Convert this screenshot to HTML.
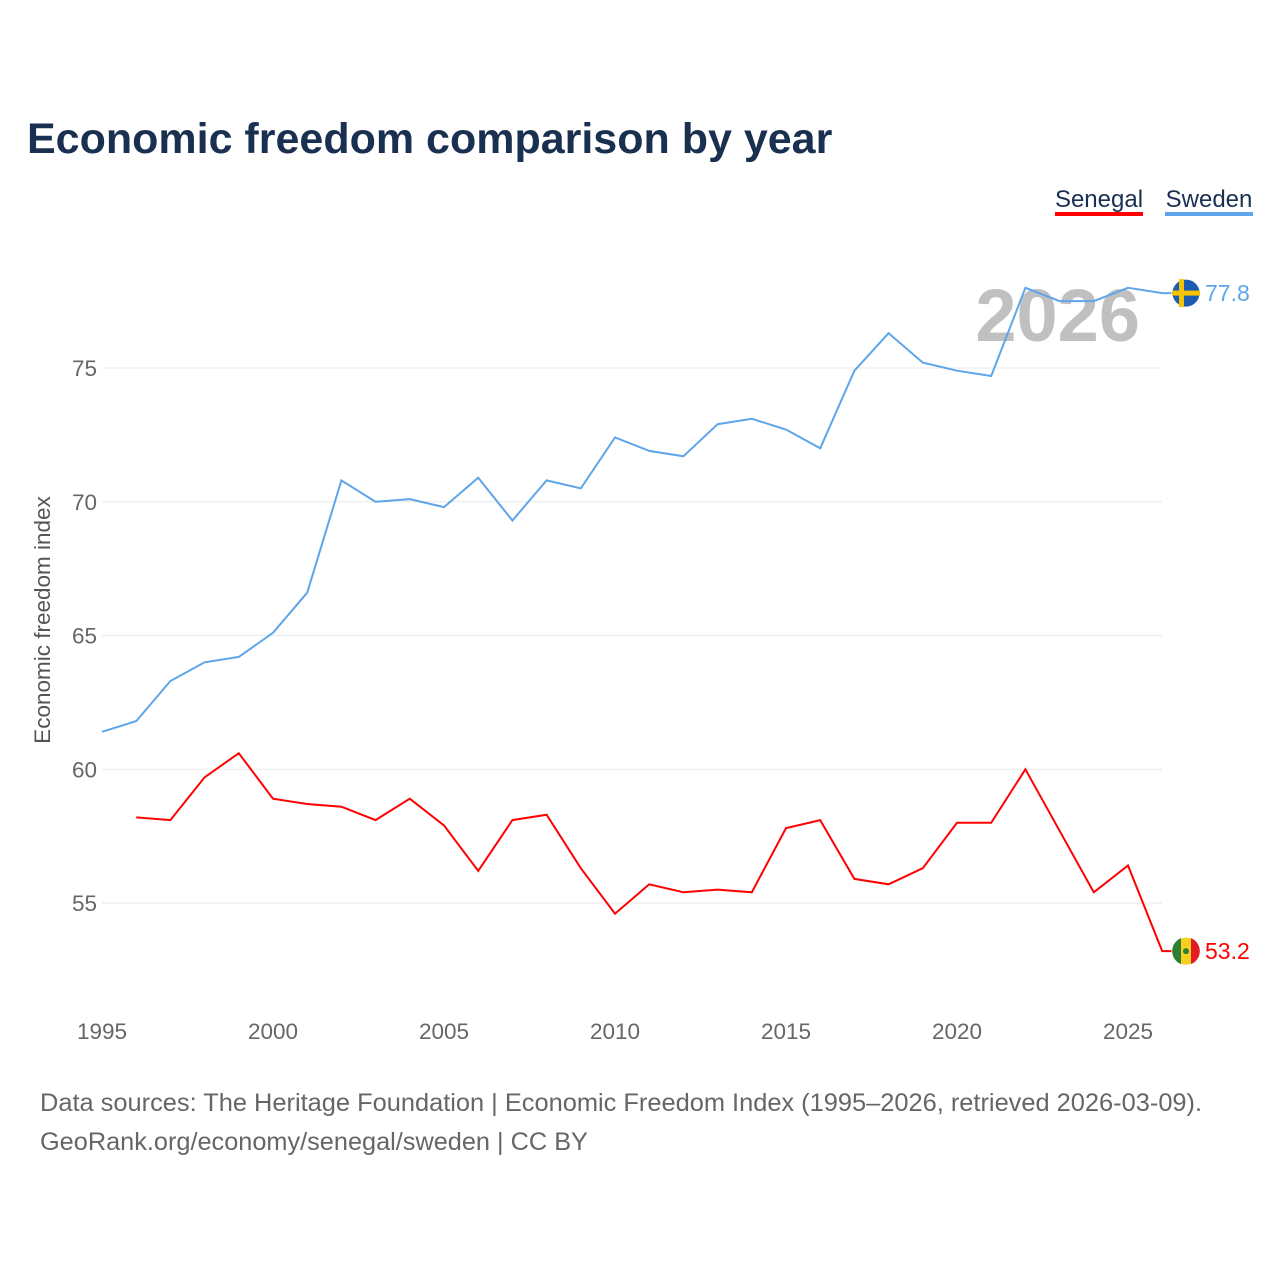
<!DOCTYPE html>
<html><head><meta charset="utf-8"><style>
body{margin:0;background:#fff;font-family:"Liberation Sans",sans-serif;}
</style></head><body>
<svg id="chart" width="1280" height="1280" xmlns="http://www.w3.org/2000/svg" style="display:block">
<text x="27" y="153" font-size="43" font-weight="bold" fill="#1a3050">Economic freedom comparison by year</text>
<g>
<text x="1099" y="207" font-size="24" fill="#1a3050" text-anchor="middle">Senegal</text>
<rect x="1055" y="212" width="88" height="4" fill="#ff0000"/>
<text x="1209" y="207" font-size="24" fill="#1a3050" text-anchor="middle">Sweden</text>
<rect x="1165" y="212" width="88" height="4" fill="#5ea5ea"/>
</g>
<text x="1140" y="341" font-size="74" font-weight="bold" fill="#c0c0c0" text-anchor="end">2026</text>
<text transform="translate(50,620) rotate(-90)" font-size="22.5" fill="#555" text-anchor="middle">Economic freedom index</text>
<g id="grid"></g><g id="xt"></g><g id="lines"></g>
<text x="40" y="1111" font-size="25.4" fill="#666">Data sources: The Heritage Foundation | Economic Freedom Index (1995–2026, retrieved 2026-03-09).</text>
<text x="40" y="1150" font-size="25.3" fill="#666">GeoRank.org/economy/senegal/sweden | CC BY</text>
</svg>
<script>
const years=[1995,1996,1997,1998,1999,2000,2001,2002,2003,2004,2005,2006,2007,2008,2009,2010,2011,2012,2013,2014,2015,2016,2017,2018,2019,2020,2021,2022,2023,2024,2025,2026];
const sweden=[61.4,61.8,63.3,64.0,64.2,65.1,66.6,70.8,70.0,70.1,69.8,70.9,69.3,70.8,70.5,72.4,71.9,71.7,72.9,73.1,72.7,72.0,74.9,76.3,75.2,74.9,74.7,78.0,77.5,77.5,78.0,77.8];
const senegal=[null,58.2,58.1,59.7,60.6,58.9,58.7,58.6,58.1,58.9,57.9,56.2,58.1,58.3,56.3,54.6,55.7,55.4,55.5,55.4,57.8,58.1,55.9,55.7,56.3,58.0,58.0,60.0,57.7,55.4,56.4,53.2];
const yTicks=[55,60,65,70,75];
const xTicks=[1995,2000,2005,2010,2015,2020,2025];
const NS="http://www.w3.org/2000/svg";
const X=y=>102+(y-1995)*34.2;
const Y=v=>368+(75-v)*26.75;
function mk(t,a,p){const e=document.createElementNS(NS,t);for(const k in a)e.setAttribute(k,a[k]);p.appendChild(e);return e;}
const grid=document.getElementById('grid');
yTicks.forEach(v=>{
 const l=mk('line',{x1:102,x2:1162,y1:Y(v),y2:Y(v),stroke:'#e8e8e8','stroke-width':1},grid);
 
 
 const t=mk('text',{x:97,y:Y(v)+8,'font-size':22.5,fill:'#666','text-anchor':'end'},grid);t.textContent=v;
 
 
});
const xt=document.getElementById('xt');
xTicks.forEach(y=>{
 const t=mk('text',{x:X(y),y:1039,'font-size':22.5,fill:'#666','text-anchor':'middle'},xt);t.textContent=y;
 
 
});
const lines=document.getElementById('lines');
function series(vals,color,name){
 let d='';vals.forEach((v,i)=>{if(v==null)return;d+=(d?'L':'M')+X(years[i]).toFixed(1)+','+Y(v).toFixed(1);});
 const last=vals[vals.length-1];
 d+='L1172,'+Y(last).toFixed(1);
 const p=mk('path',{d:d,fill:'none',stroke:color,'stroke-width':2},lines);
 
 
 const c=mk('circle',{cx:1186,cy:Y(last),r:14,fill:name==='sweden'?'#1d5cb0':'#f5d020',stroke:'#fff','stroke-width':1},lines);
 
 
 if(name==='sweden'){
  mk('rect',{x:1172,y:Y(last)-2.5,width:28,height:5,fill:'#f5c400'},lines);
  mk('rect',{x:1179,y:Y(last)-14,width:5,height:28,fill:'#f5c400'},lines);
 }else{
  mk('path',{d:`M1181,${Y(last)-13}A14,14 0 0 0 1181,${Y(last)+13}Z`,fill:'#2e7d32'},lines);
  mk('path',{d:`M1191,${Y(last)-13}A14,14 0 0 1 1191,${Y(last)+13}Z`,fill:'#e31b23'},lines);
  mk('circle',{cx:1186,cy:Y(last),r:3,fill:'#2e7d32'},lines);
 }
 const t=mk('text',{x:1205,y:Y(last)+8,'font-size':23,fill:color},lines);t.textContent=last.toFixed(1);
 
 
}
series(sweden,'#5ea5ea','sweden');
series(senegal,'#ff0000','senegal');
</script>
</body></html>
